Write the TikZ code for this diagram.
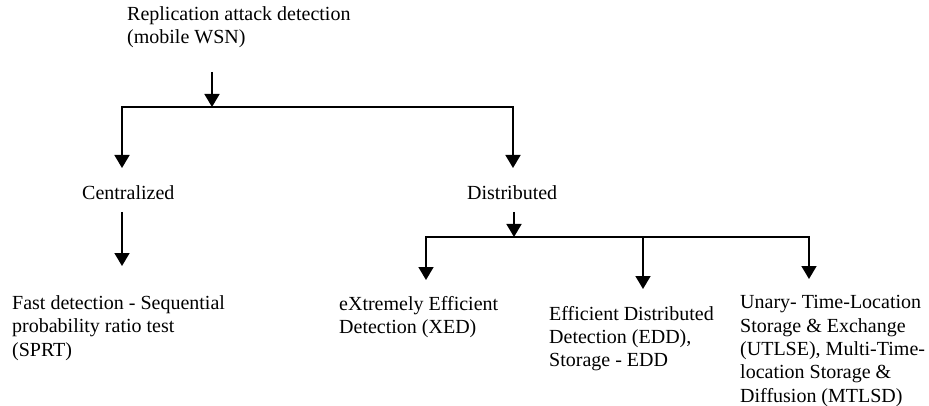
\documentclass[tikz,border=0pt]{standalone}
\usepackage{fontspec}
\setmainfont{Liberation Serif}
\usetikzlibrary{arrows.meta}
\begin{document}
\begin{tikzpicture}[x=1pt,y=-1pt,
  lbl/.style={anchor=north west,inner sep=0pt,align=left,font=\fontsize{20}{23.3}\selectfont},
  arr/.style={line width=1.6pt,line join=miter,-{Triangle[length=13pt,width=15pt]}},
  ln/.style={line width=1.6pt}]
\useasboundingbox (0,0) rectangle (929,406);
% texts
\node[lbl] (title) at (127,6.5) {Replication attack detection\\(mobile WSN)};
\node[lbl] (cent) at (82,185.5) {Centralized};
\node[lbl] (dist) at (467,185.5) {Distributed};
\node[lbl] (fast) at (12,295.5) {Fast detection - Sequential\\probability ratio test\\(SPRT)};
\node[lbl] (xed) at (339,296) {eXtremely Efficient\\Detection (XED)};
\node[lbl] (edd) at (549,306) {Efficient Distributed\\Detection (EDD),\\Storage - EDD};
\node[lbl] (utl) at (740,295.5) {Unary- Time-Location\\Storage \& Exchange\\(UTLSE), Multi-Time-\\location Storage \&\\Diffusion (MTLSD)};
% coordinates
\coordinate (t0) at (212,72);
\coordinate (j1) at (212,107);
\coordinate (c0) at (122,168);
\coordinate (d0) at (513,168);
\coordinate (c1) at (122,212);
\coordinate (c2) at (122,266);
\coordinate (d1) at (514,212);
\coordinate (j2) at (514,237);
\coordinate (x0) at (426,280);
\coordinate (e1) at (643,237);
\coordinate (e0) at (643,289);
\coordinate (u0) at (809,279);
% connectors
\draw[arr] (t0) -- (j1);
\draw[arr] (j1) -| (c0);
\draw[arr] (j1) -| (d0);
\draw[arr] (c1) -- (c2);
\draw[arr] (d1) -- (j2);
\draw[arr] (j2) -| (x0);
\draw[arr] (j2) -| (u0);
\draw[arr] (e1) -- (e0);
\end{tikzpicture}
\end{document}
